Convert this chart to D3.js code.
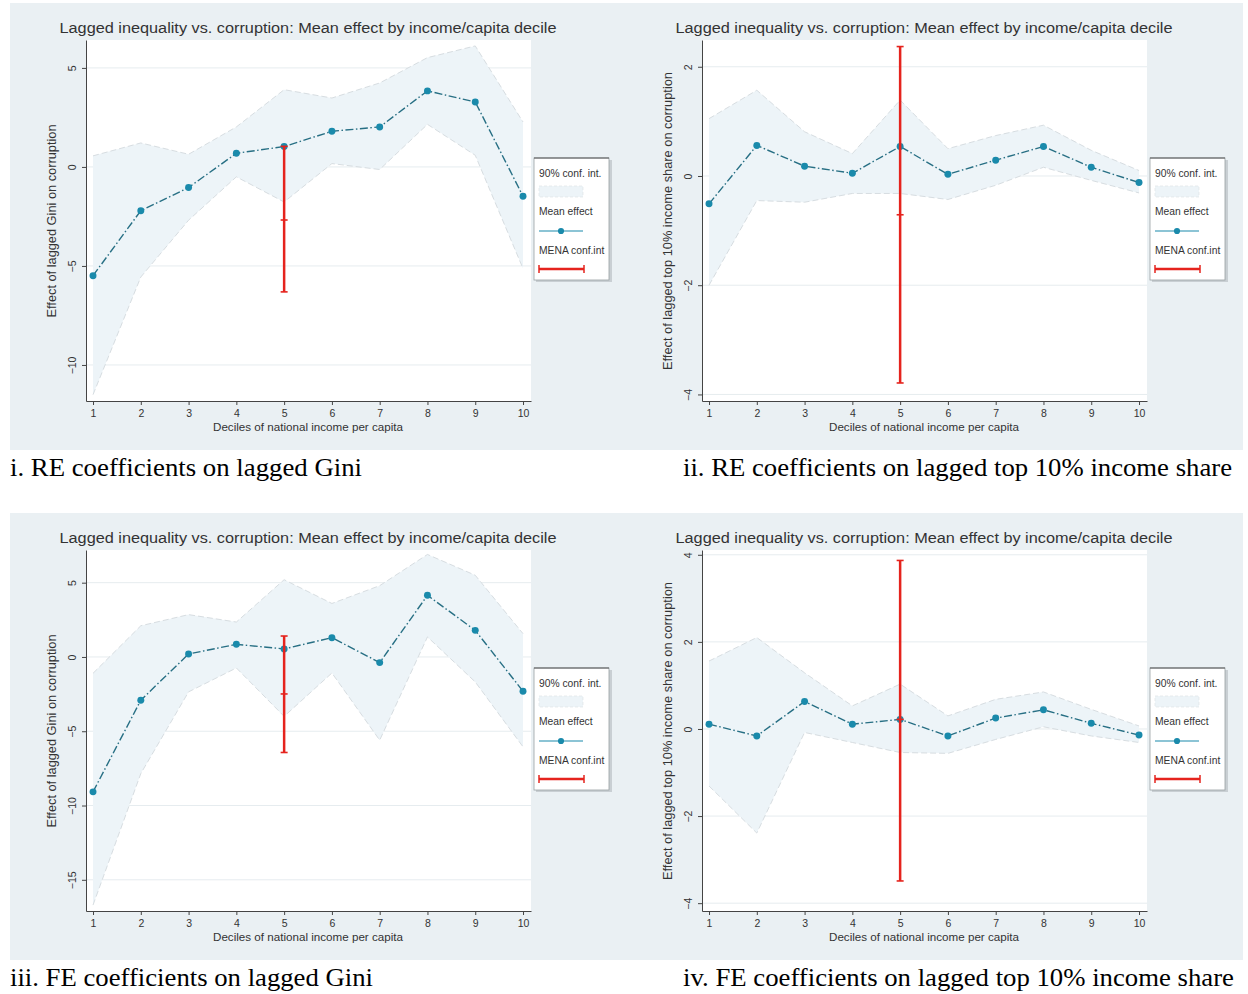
<!DOCTYPE html>
<html>
<head>
<meta charset="utf-8">
<script src="https://cdn.jsdelivr.net/npm/d3@7"></script>
<style>
body{margin:0;background:#fff;}
svg text{font-family:"Liberation Sans",Arial,sans-serif;}
</style>
</head>
<body>
<svg id="chart" width="1248" height="994"></svg>
<script>
// deciles on x
var deciles = [1,2,3,4,5,6,7,8,9,10];

// i. RE, lagged Gini
var reGiniMean  = [-5.49,-2.21,-1.04,0.69,1.03,1.80,2.02,3.84,3.28,-1.48];
var reGiniUpper = [0.56,1.21,0.64,2.02,3.90,3.48,4.24,5.52,6.11,2.27];
var reGiniLower = [-11.5,-5.56,-2.69,-0.50,-1.77,0.17,-0.13,2.15,0.59,-5.13];
var reGiniMena  = [-6.31,-2.68,1.04];   // low, point, high

// ii. RE, lagged top 10%
var reTopMean  = [-0.51,0.56,0.18,0.05,0.54,0.03,0.29,0.54,0.16,-0.12];
var reTopUpper = [1.05,1.57,0.81,0.41,1.39,0.50,0.74,0.93,0.47,0.10];
var reTopLower = [-2.0,-0.45,-0.48,-0.32,-0.32,-0.43,-0.17,0.16,-0.08,-0.31];
var reTopMena  = [-3.79,-0.71,2.37];

// iii. FE, lagged Gini
var feGiniMean  = [-9.08,-2.91,0.20,0.85,0.54,1.30,-0.38,4.15,1.79,-2.31];
var feGiniUpper = [-1.1,2.1,2.85,2.35,5.2,3.6,4.8,6.9,5.5,1.57];
var feGiniLower = [-16.7,-7.85,-2.35,-0.74,-4.0,-1.08,-5.6,1.35,-1.68,-6.05];
var feGiniMena  = [-6.43,-2.49,1.41];

// iv. FE, lagged top 10%
var feTopMean  = [0.11,-0.16,0.63,0.11,0.22,-0.16,0.25,0.44,0.13,-0.14];
var feTopUpper = [1.56,2.10,1.29,0.53,1.03,0.30,0.68,0.85,0.45,0.07];
var feTopLower = [-1.31,-2.39,-0.08,-0.31,-0.54,-0.56,-0.24,0.05,-0.16,-0.31];
var feTopMena  = [-3.49,0.22,3.87];

// axis ticks
var giniTicksRE = [-10,-5,0,5];
var topTicksRE  = [-4,-2,0,2];
var giniTicksFE = [-15,-10,-5,0,5];
var topTicksFE  = [-4,-2,0,2,4];

var chartTitle = "Lagged inequality vs. corruption: Mean effect by income/capita decile";
var xTitle = "Deciles of national income per capita";
var giniYTitle = "Effect of lagged Gini on corruption";
var topYTitle = "Effect of lagged top 10% income share on corruption";
var legendLabels = ["90% conf. int.","Mean effect","MENA conf.int"];

var svg = d3.select("#chart");

var bgCol = "#eaf0f3";
var bandCol = "#edf4f8";
var lineCol = "#276f84";
var dotCol = "#1a8aab";
var menaCol = "#e5231d";

var drawLegend = function(g)
{
    var lg = g.append("g").attr("transform","translate(534,158)");
    lg.append("rect").attr("x",2).attr("y",2).attr("width",76).attr("height",122).attr("fill","#c9cfd3");
    lg.append("rect").attr("width",75).attr("height",122).attr("fill","#fff")
      .attr("stroke","#9aa0a4").attr("stroke-width",0.8);
    lg.append("line").attr("x1",0).attr("x2",75).attr("y1",0).attr("y2",0).attr("stroke","#555").attr("stroke-width",1.2);
    var ys = [19,57,96];
    lg.selectAll("text.leg").data(legendLabels).enter().append("text")
      .attr("class","leg").attr("x",5).attr("y",function(d,i){return ys[i];})
      .attr("font-size",10.3).attr("fill","#333")
      .text(function(d){return d;});
    // band swatch
    lg.append("rect").attr("x",5).attr("y",28).attr("width",44).attr("height",11)
      .attr("fill",bandCol).attr("stroke","#dfe4e7").attr("stroke-dasharray","3,2").attr("stroke-width",0.7);
    // line swatch
    lg.append("line").attr("x1",5).attr("x2",49).attr("y1",73).attr("y2",73)
      .attr("stroke",dotCol).attr("stroke-width",1.2);
    lg.append("path").attr("d",d3.symbol().type(d3.symbolCircle).size(30)())
      .attr("transform","translate(27,73)").attr("fill",dotCol);
    // mena swatch
    lg.append("line").attr("x1",5).attr("x2",50).attr("y1",111).attr("y2",111).attr("stroke",menaCol).attr("stroke-width",2.5);
    [5,50].forEach(function(cx){
        lg.append("line").attr("x1",cx).attr("x2",cx).attr("y1",107).attr("y2",115).attr("stroke",menaCol).attr("stroke-width",1.5);
    });
};

var drawPanel = function(p)
{
    var g = svg.append("g").attr("transform","translate("+p.ox+","+p.oy+")");

    g.append("rect").attr("x",p.bgX).attr("y",3).attr("width",p.bgW).attr("height",447).attr("fill",bgCol);
    g.append("rect").attr("x",86).attr("y",40).attr("width",445).attr("height",361).attr("fill","#fff");

    var x = d3.scaleLinear().domain([0.853,10.167]).range([86,531]);
    var y = d3.scaleLinear().domain(p.yDomain).range([401,40]);

    // grid lines
    g.append("g").selectAll("line").data(p.ticks).enter().append("line")
      .attr("x1",86).attr("x2",531)
      .attr("y1",function(d){return y(d);}).attr("y2",function(d){return y(d);})
      .attr("stroke","#e6ecef").attr("stroke-width",1);

    // confidence band
    var rows = deciles.map(function(d,i){return {x:d, hi:p.upper[i], lo:p.lower[i], m:p.mean[i]};});
    var area = d3.area()
      .x(function(d){return x(d.x);})
      .y0(function(d){return y(d.lo);})
      .y1(function(d){return y(d.hi);});
    g.append("path").datum(rows).attr("d",area).attr("fill",bandCol);
    ["hi","lo"].forEach(function(k){
        g.append("path").datum(rows)
          .attr("d",d3.line().x(function(d){return x(d.x);}).y(function(d){return y(d[k]);}))
          .attr("fill","none").attr("stroke","#d7dde1").attr("stroke-width",1).attr("stroke-dasharray","6,3");
    });

    // mean effect line
    g.append("path").datum(rows)
      .attr("d",d3.line().x(function(d){return x(d.x);}).y(function(d){return y(d.m);}))
      .attr("fill","none").attr("stroke",lineCol).attr("stroke-width",1.4)
      .attr("stroke-dasharray","8,2.5,1.5,2.5");
    g.append("g").selectAll("path").data(rows).enter().append("path")
      .attr("d",d3.symbol().type(d3.symbolCircle).size(38)())
      .attr("transform",function(d){return "translate("+x(d.x)+","+y(d.m)+")";})
      .attr("fill",dotCol);

    // MENA interval at decile 5
    var mx = x(5);
    g.append("line").attr("x1",mx).attr("x2",mx).attr("y1",y(p.mena[0])).attr("y2",y(p.mena[2]))
      .attr("stroke",menaCol).attr("stroke-width",2.5);
    p.mena.forEach(function(v){
        g.append("line").attr("x1",mx-3.5).attr("x2",mx+3.5).attr("y1",y(v)).attr("y2",y(v))
          .attr("stroke",menaCol).attr("stroke-width",1.6);
    });

    // axes
    var yAxis = d3.axisLeft(y).tickValues(p.ticks).tickSize(4).tickSizeOuter(0).tickFormat(d3.format("d"));
    var ya = g.append("g").attr("transform","translate(86,0)").call(yAxis);
    ya.selectAll("text").attr("x",0).attr("y",-10).attr("dy",0)
      .attr("text-anchor","middle").attr("transform","rotate(-90)")
      .attr("font-size",10.5).attr("fill","#333").style("font-family","Liberation Sans, Arial, sans-serif");

    var xAxis = d3.axisBottom(x).tickValues(deciles).tickSize(4).tickSizeOuter(0);
    var xa = g.append("g").attr("transform","translate(0,401)").call(xAxis);
    xa.selectAll("text").attr("y",9).attr("font-size",10.5).attr("fill","#333")
      .style("font-family","Liberation Sans, Arial, sans-serif");
    [ya,xa].forEach(function(a){
        a.select(".domain").attr("stroke","#444");
        a.selectAll(".tick line").attr("stroke","#444");
    });

    // texts
    g.append("text").attr("x",308).attr("y",33).attr("text-anchor","middle")
      .attr("font-size",15.5).attr("fill","#333")
      .attr("textLength",497).attr("lengthAdjust","spacingAndGlyphs").text(chartTitle);
    g.append("text").attr("x",308).attr("y",431).attr("text-anchor","middle")
      .attr("font-size",11.5).attr("fill","#333")
      .attr("textLength",190).attr("lengthAdjust","spacingAndGlyphs").text(xTitle);
    g.append("text").attr("transform","translate(56,221) rotate(-90)").attr("text-anchor","middle")
      .attr("font-size",12).attr("fill","#333")
      .attr("textLength",p.yTitleW).attr("lengthAdjust","spacingAndGlyphs").text(p.yTitle);

    drawLegend(g);

    // caption under the panel
    svg.append("text").attr("x",p.capX).attr("y",p.oy+476)
      .attr("font-size",26).attr("fill","#000")
      .style("font-family","Liberation Serif, Times New Roman, serif")
      .attr("textLength",p.capW).attr("lengthAdjust","spacingAndGlyphs")
      .text(p.caption);
};

var panels = [
  {ox:0, oy:0, bgX:10, bgW:616, yDomain:[-11.82,6.41], ticks:giniTicksRE,
   mean:reGiniMean, upper:reGiniUpper, lower:reGiniLower, mena:reGiniMena,
   yTitle:giniYTitle, yTitleW:193, caption:"i. RE coefficients on lagged Gini", capX:10, capW:352},
  {ox:616, oy:0, bgX:10, bgW:617, yDomain:[-4.12,2.49], ticks:topTicksRE,
   mean:reTopMean, upper:reTopUpper, lower:reTopLower, mena:reTopMena,
   yTitle:topYTitle, yTitleW:298, caption:"ii. RE coefficients on lagged top 10% income share", capX:683, capW:549},
  {ox:0, oy:510, bgX:10, bgW:616, yDomain:[-17.1,7.2], ticks:giniTicksFE,
   mean:feGiniMean, upper:feGiniUpper, lower:feGiniLower, mena:feGiniMena,
   yTitle:giniYTitle, yTitleW:193, caption:"iii. FE coefficients on lagged Gini", capX:10, capW:363},
  {ox:616, oy:510, bgX:10, bgW:617, yDomain:[-4.18,4.11], ticks:topTicksFE,
   mean:feTopMean, upper:feTopUpper, lower:feTopLower, mena:feTopMena,
   yTitle:topYTitle, yTitleW:298, caption:"iv. FE coefficients on lagged top 10% income share", capX:683, capW:551}
];

panels.forEach(drawPanel);
</script>
</body>
</html>
